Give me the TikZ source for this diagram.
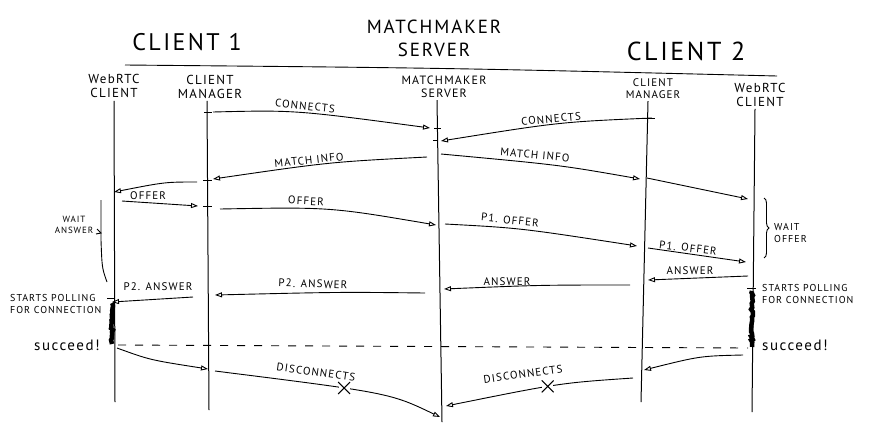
\documentclass[tikz,border=0pt]{standalone}
\usepackage{fontspec}
\setmainfont[LetterSpace=10]{PT Sans}
\usetikzlibrary{arrows.meta,decorations.pathmorphing,decorations.pathreplacing}
\begin{document}
\begin{tikzpicture}[x=1pt,y=-1pt,
  life/.style={line width=1pt},
  msg/.style={line width=0.9pt,-{Triangle[open,length=7pt,width=5pt]}},
  plain/.style={line width=0.9pt},
  lbl/.style={font=\fontsize{11}{12}\selectfont, inner sep=0pt},
  title/.style={font=\fontsize{#1}{#1}\selectfont, inner sep=0pt, align=center},
  sub/.style={font=\fontsize{#1}{#1}\selectfont, inner sep=0pt, align=center},
  note/.style={font=\fontsize{10}{12}\selectfont, inner sep=0pt, align=left},
  cross/.style={fill=white, inner sep=0pt, minimum size=11pt},
  xline/.style={line width=1pt},
  poll/.style={line width=4.5pt, decorate, decoration={random steps, segment length=2pt, amplitude=1pt}},
  tick/.style={line width=0.9pt}
]
\useasboundingbox (0,0) rectangle (880,426);

% titles
\node[title=24] (t1) at (187,42) {CLIENT 1};
\node[title=19] (ts) at (434,38) {MATCHMAKER\\[4pt]SERVER};
\node[title=26] (t2) at (686,51) {CLIENT 2};
\coordinate (hl1) at (125,65);
\coordinate (hl2) at (777,76);
\draw[plain] (hl1) .. controls (450,68) .. (hl2);

% lifeline heads
\node[sub=13] (w1h) at (114,86) {WebRTC\\[1pt]CLIENT};
\node[sub=13] (m1h) at (210,87) {CLIENT\\[1pt]MANAGER};
\node[sub=12] (sh)  at (444,87) {MATCHMAKER\\[1pt]SERVER};
\node[sub=11] (m2h) at (653,89) {CLIENT\\[1pt]MANAGER};
\node[sub=13] (w2h) at (760,95) {WebRTC\\[1pt]CLIENT};

% lifeline ends
\coordinate (w1e) at (115,402);
\coordinate (m1e) at (209,410);
\coordinate (se)  at (442,422);
\coordinate (m2e) at (641,402);
\coordinate (w2e) at (752,412);

\draw[life] (w1h.south) ++(0,3) coordinate (w1s) -- (w1e);
\draw[life] (m1h.south) ++(-3,2) coordinate (m1s) -- (m1e);
\draw[life] (sh.south) ++(-7,2) coordinate (ss) -- (se);
\draw[life] (m2h.south) ++(-5,2) coordinate (m2s) -- (m2e);
\draw[life] (w2h.south) ++(-5,2) coordinate (w2s) -- (w2e);

% message end points
\coordinate (a1) at (213,112); \coordinate (b1) at (430,128);
\coordinate (a2) at (652,118); \coordinate (b2) at (441,141);
\coordinate (a3) at (427,157); \coordinate (b3) at (213,179);
\coordinate (a4) at (441,154); \coordinate (b4) at (640,179);
\coordinate (a5) at (647,178); \coordinate (b5) at (748,199);
\coordinate (a6) at (197,182); \coordinate (b6) at (114,192);
\coordinate (a7) at (122,201); \coordinate (b7) at (198,206);
\coordinate (a8) at (220,209); \coordinate (b8) at (436,225);
\coordinate (a9) at (445,224); \coordinate (b9) at (637,246);
\coordinate (a10) at (648,248); \coordinate (b10) at (746,262);
\coordinate (a11) at (748,276); \coordinate (b11) at (648,280);
\coordinate (a12) at (630,285); \coordinate (b12) at (444,289);
\coordinate (a13) at (425,293); \coordinate (b13) at (215,295);
\coordinate (a14) at (193,297); \coordinate (b14) at (112,302);
\coordinate (d1) at (118,345); \coordinate (d2) at (748,348);
\coordinate (a16) at (117,348); \coordinate (b16) at (208,369);
\coordinate (a17) at (215,371); \coordinate (b17) at (440,417);
\coordinate (a18) at (743,355); \coordinate (b18) at (644,370);
\coordinate (a19) at (633,378); \coordinate (b19) at (446,406);

% ticks on lifelines
\draw[tick] (204,112) -- (212,112);
\draw[tick] (434,128) -- (441,128);
\draw[tick] (433,140) -- (438,140);
\draw[tick] (643,118) -- (655,118);
\draw[tick] (203,180) -- (212,180);
\draw[tick] (203,206) -- (212,206);
\draw[tick] (107,298) -- (114,298);
\draw[tick] (747,288) -- (756,288);

% messages
\draw[msg] (a1) .. controls (295,110) .. (b1);
\node[lbl, rotate=-6] (l1) at (305,106) {CONNECTS};
\draw[msg] (a2) .. controls (560,122) .. (b2);
\node[lbl, rotate=5] (l2) at (551,119) {CONNECTS};
\draw[msg] (a3) .. controls (330,162) .. (b3);
\node[lbl, rotate=6] (l3) at (309,160) {MATCH INFO};
\draw[msg] (a4) .. controls (560,165) .. (b4);
\node[lbl, rotate=-5] (l4) at (535,155) {MATCH INFO};
\draw[msg] (a5) -- (b5);
\draw[msg] (a6) .. controls (165,182) .. (b6);
\draw[msg] (a7) -- (b7);
\node[lbl] (l7) at (148,196) {OFFER};
\draw[msg] (a8) .. controls (330,207) .. (b8);
\node[lbl, rotate=-3] (l8) at (306,201) {OFFER};
\draw[msg] (a9) .. controls (520,228) .. (b9);
\node[lbl, rotate=-6] (l9) at (510,220) {P1. OFFER};
\draw[msg] (a10) -- (b10);
\node[lbl, rotate=-7] (l10) at (688,248) {P1. OFFER};
\draw[msg] (a11) -- (b11);
\node[lbl] (l11) at (690,271) {ANSWER};
\draw[msg] (a12) .. controls (540,285) .. (b12);
\node[lbl] (l12) at (507,282) {ANSWER};
\draw[msg] (a13) .. controls (340,292) .. (b13);
\node[lbl, rotate=-2] (l13) at (313,284) {P2. ANSWER};
\draw[msg] (a14) -- (b14);
\node[lbl] (l14) at (158,287) {P2. ANSWER};

% polling
\draw[poll] (112,303) -- (112,344);
\draw[poll] (752,291) -- (752,347);
\node[note, anchor=west] (pl) at (10,304) {STARTS POLLING\\FOR CONNECTION};
\node[note, anchor=west] (pr) at (762,294) {STARTS POLLING\\FOR CONNECTION};
\node[font=\fontsize{15}{15}\selectfont, inner sep=0pt, anchor=west] (sl) at (34,345) {succeed!};
\node[font=\fontsize{15}{15}\selectfont, inner sep=0pt, anchor=west] (sr) at (762,345) {succeed!};

% connected line
\draw[line width=0.9pt, dash pattern=on 8pt off 9pt] (d1) -- (d2);

% disconnects
\draw[msg] (a16) .. controls (150,360) .. (b16);
\draw[msg] (a17) .. controls (390,393) .. (b17) node[cross, pos=0.35] (x1) {};
\draw[xline] (x1.north west) -- (x1.south east) (x1.north east) -- (x1.south west);
\node[lbl, rotate=-8] (l17) at (316,372) {DISCONNECTS};
\draw[msg] (a18) .. controls (700,356) .. (b18);
\draw[msg] (a19) .. controls (560,383) .. (b19) node[cross, pos=0.55] (x2) {};
\draw[xline] (x2.north west) -- (x2.south east) (x2.north east) -- (x2.south west);
\node[lbl, rotate=8] (l19) at (523,374) {DISCONNECTS};

% wait answer
\coordinate (wa1) at (101,200);
\coordinate (wa2) at (107,282);
\draw[plain] (wa1) -- (101,240) .. controls (102,268) .. (wa2);
\draw[plain] (97,229) -- (101,233) -- (96,234);
\node[note, align=center, font=\fontsize{9}{11}\selectfont] (wat) at (74,225) {WAIT\\ANSWER};

% wait offer
\coordinate (wo1) at (764,198);
\coordinate (wo2) at (764,258);
\draw[plain, decorate, decoration={brace, amplitude=5pt}] (wo1) -- (wo2);
\node[note, anchor=west] (wot) at (774,233) {WAIT\\OFFER};
\end{tikzpicture}
\end{document}
